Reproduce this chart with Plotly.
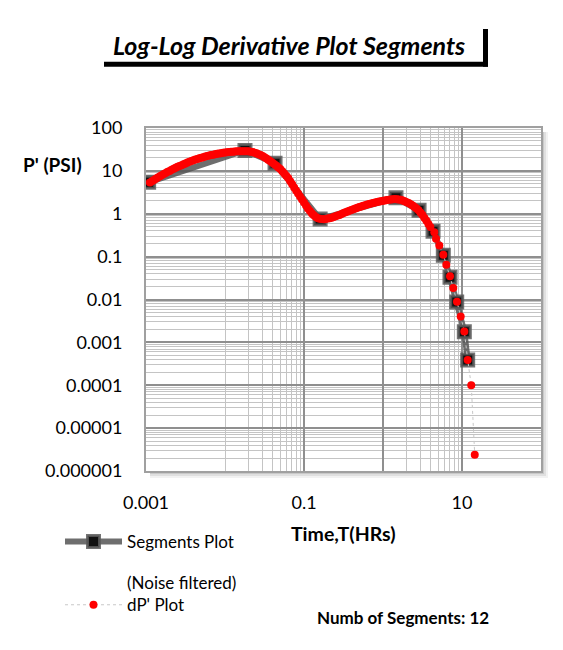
import plotly.graph_objects as go

# ---------------- data ----------------
dp_time = [
    0.00112, 0.00119, 0.00126, 0.00133, 0.00141, 0.00150, 0.00158, 0.00168, 0.00178, 0.00188,
    0.00200, 0.00211, 0.00224, 0.00237, 0.00251, 0.00266, 0.00282, 0.00299, 0.00316, 0.00335,
    0.00355, 0.00376, 0.00398, 0.00422, 0.00447, 0.00473, 0.00501, 0.00531, 0.00562, 0.00596,
    0.00631, 0.00668, 0.00708, 0.00750, 0.00794, 0.00841, 0.00891, 0.00944, 0.0100, 0.0106,
    0.0112, 0.0119, 0.0126, 0.0133, 0.0141, 0.0150, 0.0158, 0.0168, 0.0178, 0.0188,
    0.0200, 0.0211, 0.0224, 0.0237, 0.0251, 0.0266, 0.0282, 0.0299, 0.0316, 0.0335,
    0.0355, 0.0376, 0.0398, 0.0422, 0.0447, 0.0473, 0.0501, 0.0531, 0.0562, 0.0596,
    0.0631, 0.0668, 0.0708, 0.0750, 0.0794, 0.0841, 0.0891, 0.0944, 0.100, 0.106,
    0.112, 0.119, 0.126, 0.133, 0.141, 0.150, 0.158, 0.168, 0.178, 0.188,
    0.200, 0.211, 0.224, 0.237, 0.251, 0.266, 0.282, 0.299, 0.316, 0.335,
    0.355, 0.376, 0.398, 0.422, 0.447, 0.473, 0.501, 0.531, 0.562, 0.596,
    0.631, 0.668, 0.708, 0.750, 0.794, 0.841, 0.891, 0.944, 1.00, 1.06,
    1.12, 1.19, 1.26, 1.33, 1.41, 1.50, 1.58, 1.68, 1.78, 1.88,
    2.00, 2.11, 2.24, 2.37, 2.51, 2.66, 2.82, 2.99, 3.16, 3.35,
    3.55, 3.76, 3.98,
    4.46, 4.69, 5.16, 5.80, 6.33, 7.05, 7.75, 8.64, 9.63, 10.7,
    11.8, 13.1, 14.5,
]
dp_value = [
    5.35, 5.74, 6.14, 6.56, 7.00, 7.46, 7.94, 8.44, 8.95, 9.48,
    10.0, 10.6, 11.2, 11.8, 12.4, 13.0, 13.6, 14.3, 14.9, 15.6,
    16.3, 16.9, 17.6, 18.3, 18.9, 19.6, 20.2, 20.9, 21.5, 22.1,
    22.8, 23.3, 23.9, 24.5, 25.0, 25.5, 25.9, 26.4, 26.8, 27.2,
    27.5, 27.8, 28.1, 28.3, 28.5, 28.6, 28.8, 28.8, 28.8, 28.7,
    28.5, 28.1, 27.5, 26.6, 25.7, 24.5, 23.4, 22.1, 20.9, 19.4,
    18.0, 16.7, 15.5, 14.3, 13.2, 12.0, 11.0, 9.8, 8.7, 7.7,
    6.8, 5.75, 4.9, 4.12, 3.47, 2.95, 2.51, 2.14, 1.82, 1.55,
    1.33, 1.16, 1.02, 0.92, 0.84, 0.79, 0.76, 0.75, 0.74, 0.75,
    0.77, 0.79, 0.81, 0.84, 0.87, 0.91, 0.94, 0.99, 1.035, 1.08,
    1.135, 1.18, 1.23, 1.28, 1.33, 1.38, 1.43, 1.48, 1.53, 1.58,
    1.64, 1.69, 1.74, 1.79, 1.84, 1.88, 1.93, 1.96, 2.00, 2.04,
    2.09, 2.13, 2.16, 2.19, 2.20, 2.19, 2.16, 2.11, 2.04, 1.96,
    1.86, 1.77, 1.66, 1.55, 1.43, 1.32, 1.20, 1.06, 0.93, 0.80,
    0.69, 0.58, 0.49,
    0.37, 0.26, 0.181, 0.111, 0.065, 0.0347, 0.0186, 0.0089, 0.0040, 0.0018,
    0.00039, 0.0001, 0.0000024,
]

seg_time = [0.00108, 0.0179, 0.043, 0.16, 1.46, 2.86, 4.3, 5.8, 7.05, 8.57, 10.7, 11.8]
seg_value = [5.4, 30.0, 15.0, 0.75, 2.35, 1.2, 0.39, 0.108, 0.033, 0.0088, 0.00177, 0.00039]

x_tick_vals = [0.001, 0.1, 1, 10]
x_tick_text = ["0.001", "0.1", "", "10"]
x_minor_vals = [0.01, 0.02, 0.03, 0.04, 0.05, 0.06, 0.07, 0.08, 0.09, 2, 3, 4, 5, 6, 7, 8, 9]
y_tick_vals = [1e-6, 1e-5, 1e-4, 1e-3, 1e-2, 1e-1, 1, 10, 100]
y_tick_text = ["0.000001", "0.00001", "0.0001", "0.001", "0.01", "0.1", "1", "10", "100"]
y_minor_vals = [m * 10.0 ** k for k in range(-6, 2) for m in range(2, 10)]

title_text = "Log-Log Derivative Plot Segments"
y_title = "P' (PSI)"
x_title = "Time,T(HRs)"
seg_count_text = "Numb of Segments: 12"

# ---------------- layout helpers ----------------
W, H = 563, 650
L, R, T, B = 146, 541, 128, 471
FONT = "Lato, 'Open Sans', sans-serif"


def fx(px):
    return (px - L) / (R - L)


def fy(py):
    return (B - py) / (B - T)


fig = go.Figure()

fig.add_trace(go.Scatter(
    x=seg_time, y=seg_value, mode="lines+markers", name="Segments Plot",
    legendgroup="a",
    line=dict(color="rgba(85,85,85,0.85)", width=6),
    marker=dict(symbol="square", size=12, color="#111111",
                line=dict(color="rgba(90,90,90,0.85)", width=3)),
))

fig.add_trace(go.Scatter(
    x=dp_time, y=dp_value, mode="lines+markers", name="(Noise filtered)<br>dP' Plot",
    legendgroup="b",
    line=dict(color="#c8c8c8", width=1, dash="dot"),
    marker=dict(color="#ff0000", size=8, line=dict(width=0)),
))

shapes = []
# plot-area drop shadow (strips outside the plot area only)
for off, col in [(7, "rgba(0,0,0,0.05)"), (5, "rgba(0,0,0,0.07)"), (3, "rgba(0,0,0,0.10)")]:
    shapes.append(dict(type="rect", xref="paper", yref="paper", layer="below",
                       x0=fx(L + 4), x1=fx(R + off), y0=fy(B + off), y1=fy(B),
                       fillcolor=col, line=dict(width=0)))
    shapes.append(dict(type="rect", xref="paper", yref="paper", layer="below",
                       x0=fx(R), x1=fx(R + off), y0=fy(B), y1=fy(T + 4),
                       fillcolor=col, line=dict(width=0)))
# title box shadow (underline + right bar)
shapes.append(dict(type="rect", xref="paper", yref="paper",
                   x0=fx(104), x1=fx(488), y0=fy(66.7), y1=fy(61.7),
                   fillcolor="black", line=dict(width=0)))
shapes.append(dict(type="rect", xref="paper", yref="paper",
                   x0=fx(483), x1=fx(488), y0=fy(66.7), y1=fy(29),
                   fillcolor="black", line=dict(width=0)))

annotations = [
    dict(text="<b><i>%s</i></b>" % title_text, x=fx(289), y=fy(45), xref="paper", yref="paper",
         showarrow=False, xanchor="center", yanchor="middle",
         font=dict(family=FONT, size=25, color="black")),
    dict(text="<b>%s</b>" % y_title, x=fx(52), y=fy(164), xref="paper", yref="paper",
         showarrow=False, xanchor="center", yanchor="middle",
         font=dict(family=FONT, size=19, color="black")),
    dict(text="<b>%s</b>" % x_title, x=fx(343), y=fy(533), xref="paper", yref="paper",
         showarrow=False, xanchor="center", yanchor="middle",
         font=dict(family=FONT, size=19.5, color="black")),
    dict(text="<b>%s</b>" % seg_count_text, x=fx(403), y=fy(617), xref="paper", yref="paper",
         showarrow=False, xanchor="center", yanchor="middle",
         font=dict(family=FONT, size=17, color="black")),
]

axis_common = dict(
    type="log", showgrid=True, gridcolor="#8f8f8f", gridwidth=1.5,
    showline=True, linecolor="#a0a0a0", linewidth=2, mirror=True,
    ticks="", zeroline=False, tickmode="array",
    tickfont=dict(family=FONT, size=18, color="black"),
)

fig.update_layout(
    width=W, height=H,
    margin=dict(l=L, r=W - R, t=T, b=H - B, pad=0),
    paper_bgcolor="white", plot_bgcolor="white",
    font=dict(family=FONT, color="black"),
    xaxis=dict(axis_common, range=[-3, 2], tickvals=x_tick_vals, ticktext=x_tick_text,
               ticklabelstandoff=14,
               minor=dict(tickmode="array", tickvals=x_minor_vals, showgrid=True,
                          gridcolor="#c4c4c4", gridwidth=1, ticks="")),
    yaxis=dict(axis_common, range=[-6, 2], tickvals=y_tick_vals, ticktext=y_tick_text,
               ticklabelstandoff=18,
               minor=dict(tickmode="array", tickvals=y_minor_vals, showgrid=True,
                          gridcolor="#c4c4c4", gridwidth=1, ticks="")),
    showlegend=True,
    legend=dict(x=fx(60), y=fy(524), xanchor="left", yanchor="top",
                bgcolor="rgba(0,0,0,0)", itemwidth=57, valign="bottom",
                traceorder="grouped", tracegroupgap=16,
                font=dict(family=FONT, size=17, color="black")),
    shapes=shapes,
    annotations=annotations,
)

fig.write_html("out.html")
